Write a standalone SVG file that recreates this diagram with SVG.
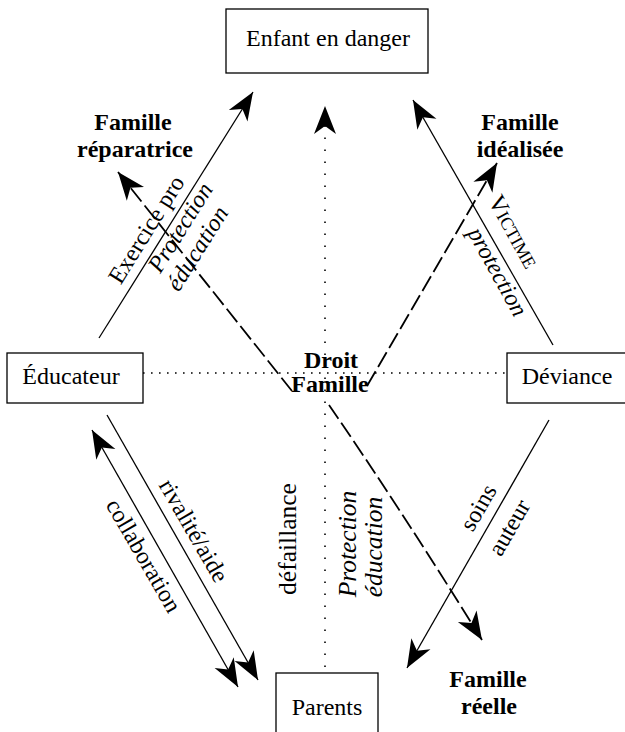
<svg xmlns="http://www.w3.org/2000/svg" width="625" height="732" viewBox="0 0 625 732">
<style>
  .box { fill: #fff; stroke: #000; stroke-width: 1.3; }
  .t { font-family: "Liberation Serif", "Times New Roman", serif; font-size: 24px; fill: #000; }
  .b { font-weight: bold; }
  .i { font-style: italic; }
  .v { font-size: 25.5px; }
  .solid { fill: none; stroke: #000; stroke-width: 1.3; }
  .dash { fill: none; stroke: #000; stroke-width: 1.8; stroke-dasharray: 17 5; }
  .doth { fill: none; stroke: #000; stroke-width: 1.6; stroke-dasharray: 1.6 6.4; }
  .dotv { fill: none; stroke: #000; stroke-width: 1.6; stroke-dasharray: 1.6 10.4; }
</style>
<defs>
  <marker id="ah" markerUnits="userSpaceOnUse" markerWidth="30" markerHeight="24" viewBox="0 0 30 24" refX="28" refY="12" orient="auto-start-reverse">
    <path d="M28,12 L0,1 L8,12 L0,23 Z" fill="#000"/>
  </marker>
</defs>

<g id="connectors">
  <line class="doth" x1="143" y1="373" x2="507" y2="373"/>
  <line class="dotv" x1="325" y1="667" x2="325" y2="106" marker-end="url(#ah)"/>
  <line class="solid" x1="99" y1="338" x2="253" y2="92" marker-end="url(#ah)"/>
  <line class="solid" x1="553" y1="345" x2="413" y2="100" marker-end="url(#ah)"/>
  <line class="solid" x1="107" y1="415" x2="258" y2="680" marker-end="url(#ah)"/>
  <line class="solid" x1="92" y1="430" x2="238" y2="687" marker-start="url(#ah)" marker-end="url(#ah)"/>
  <line class="solid" x1="549" y1="420" x2="407" y2="668" marker-end="url(#ah)"/>
  <line class="dash" x1="292" y1="391" x2="118" y2="172" marker-end="url(#ah)"/>
  <line class="dash" x1="367" y1="386" x2="497" y2="163" marker-end="url(#ah)"/>
  <path class="dash" d="M329,405 Q400,508 482,640" marker-end="url(#ah)"/>
</g>

<g id="enfant">
  <rect class="box" x="226" y="9" width="202" height="64"/>
  <text class="t" x="328" y="46" text-anchor="middle">Enfant en danger</text>
</g>
<g id="educateur">
  <rect class="box" x="7" y="353" width="136" height="50"/>
  <text class="t" x="71" y="384" text-anchor="middle">Éducateur</text>
</g>
<g id="deviance">
  <rect class="box" x="507" y="353" width="125" height="50"/>
  <text class="t" x="567" y="384" text-anchor="middle">Déviance</text>
</g>
<g id="parents">
  <rect class="box" x="276" y="673" width="102" height="70"/>
  <text class="t" x="327" y="715" text-anchor="middle">Parents</text>
</g>

<g id="droit-famille">
  <text class="t b" x="331" y="368" text-anchor="middle">Droit</text>
  <text class="t b" x="330" y="392" text-anchor="middle">Famille</text>
</g>
<g id="famille-reparatrice">
  <text class="t b" x="133" y="130" text-anchor="middle">Famille</text>
  <text class="t b" x="135" y="157" text-anchor="middle">réparatrice</text>
</g>
<g id="famille-idealisee">
  <text class="t b" x="520" y="130" text-anchor="middle">Famille</text>
  <text class="t b" x="520" y="157" text-anchor="middle">idéalisée</text>
</g>
<g id="famille-reelle">
  <text class="t b" x="488" y="687" text-anchor="middle">Famille</text>
  <text class="t b" x="489" y="714" text-anchor="middle">réelle</text>
</g>

<g id="labels">
  <text class="t" transform="translate(147,230) rotate(-58)" x="0" y="7" text-anchor="middle">Exercice pro</text>
  <text class="t i" transform="translate(181,228) rotate(-58)" x="0" y="7" text-anchor="middle">Protection</text>
  <text class="t i" transform="translate(198,249) rotate(-58)" x="0" y="7" text-anchor="middle">éducation</text>
  <text class="t" transform="translate(513,232) rotate(61)" x="0" y="7" text-anchor="middle">V<tspan font-size="18">ICTIME</tspan></text>
  <text class="t i" transform="translate(497,272) rotate(61)" x="0" y="7" text-anchor="middle">protection</text>
  <text class="t" transform="translate(193,531) rotate(60)" x="0" y="7" text-anchor="middle">rivalité/aide</text>
  <text class="t" transform="translate(143,556) rotate(60)" x="0" y="7" text-anchor="middle">collaboration</text>
  <text class="t v" transform="translate(289,539) rotate(-90)" x="0" y="7" text-anchor="middle">défaillance</text>
  <text class="t i v" transform="translate(349,544) rotate(-90)" x="0" y="7" text-anchor="middle">Protection</text>
  <text class="t i v" transform="translate(375,547) rotate(-90)" x="0" y="7" text-anchor="middle">éducation</text>
  <text class="t" transform="translate(479,508) rotate(-60)" x="0" y="7" text-anchor="middle">soins</text>
  <text class="t" transform="translate(510,528) rotate(-60)" x="0" y="7" text-anchor="middle">auteur</text>
</g>
</svg>
